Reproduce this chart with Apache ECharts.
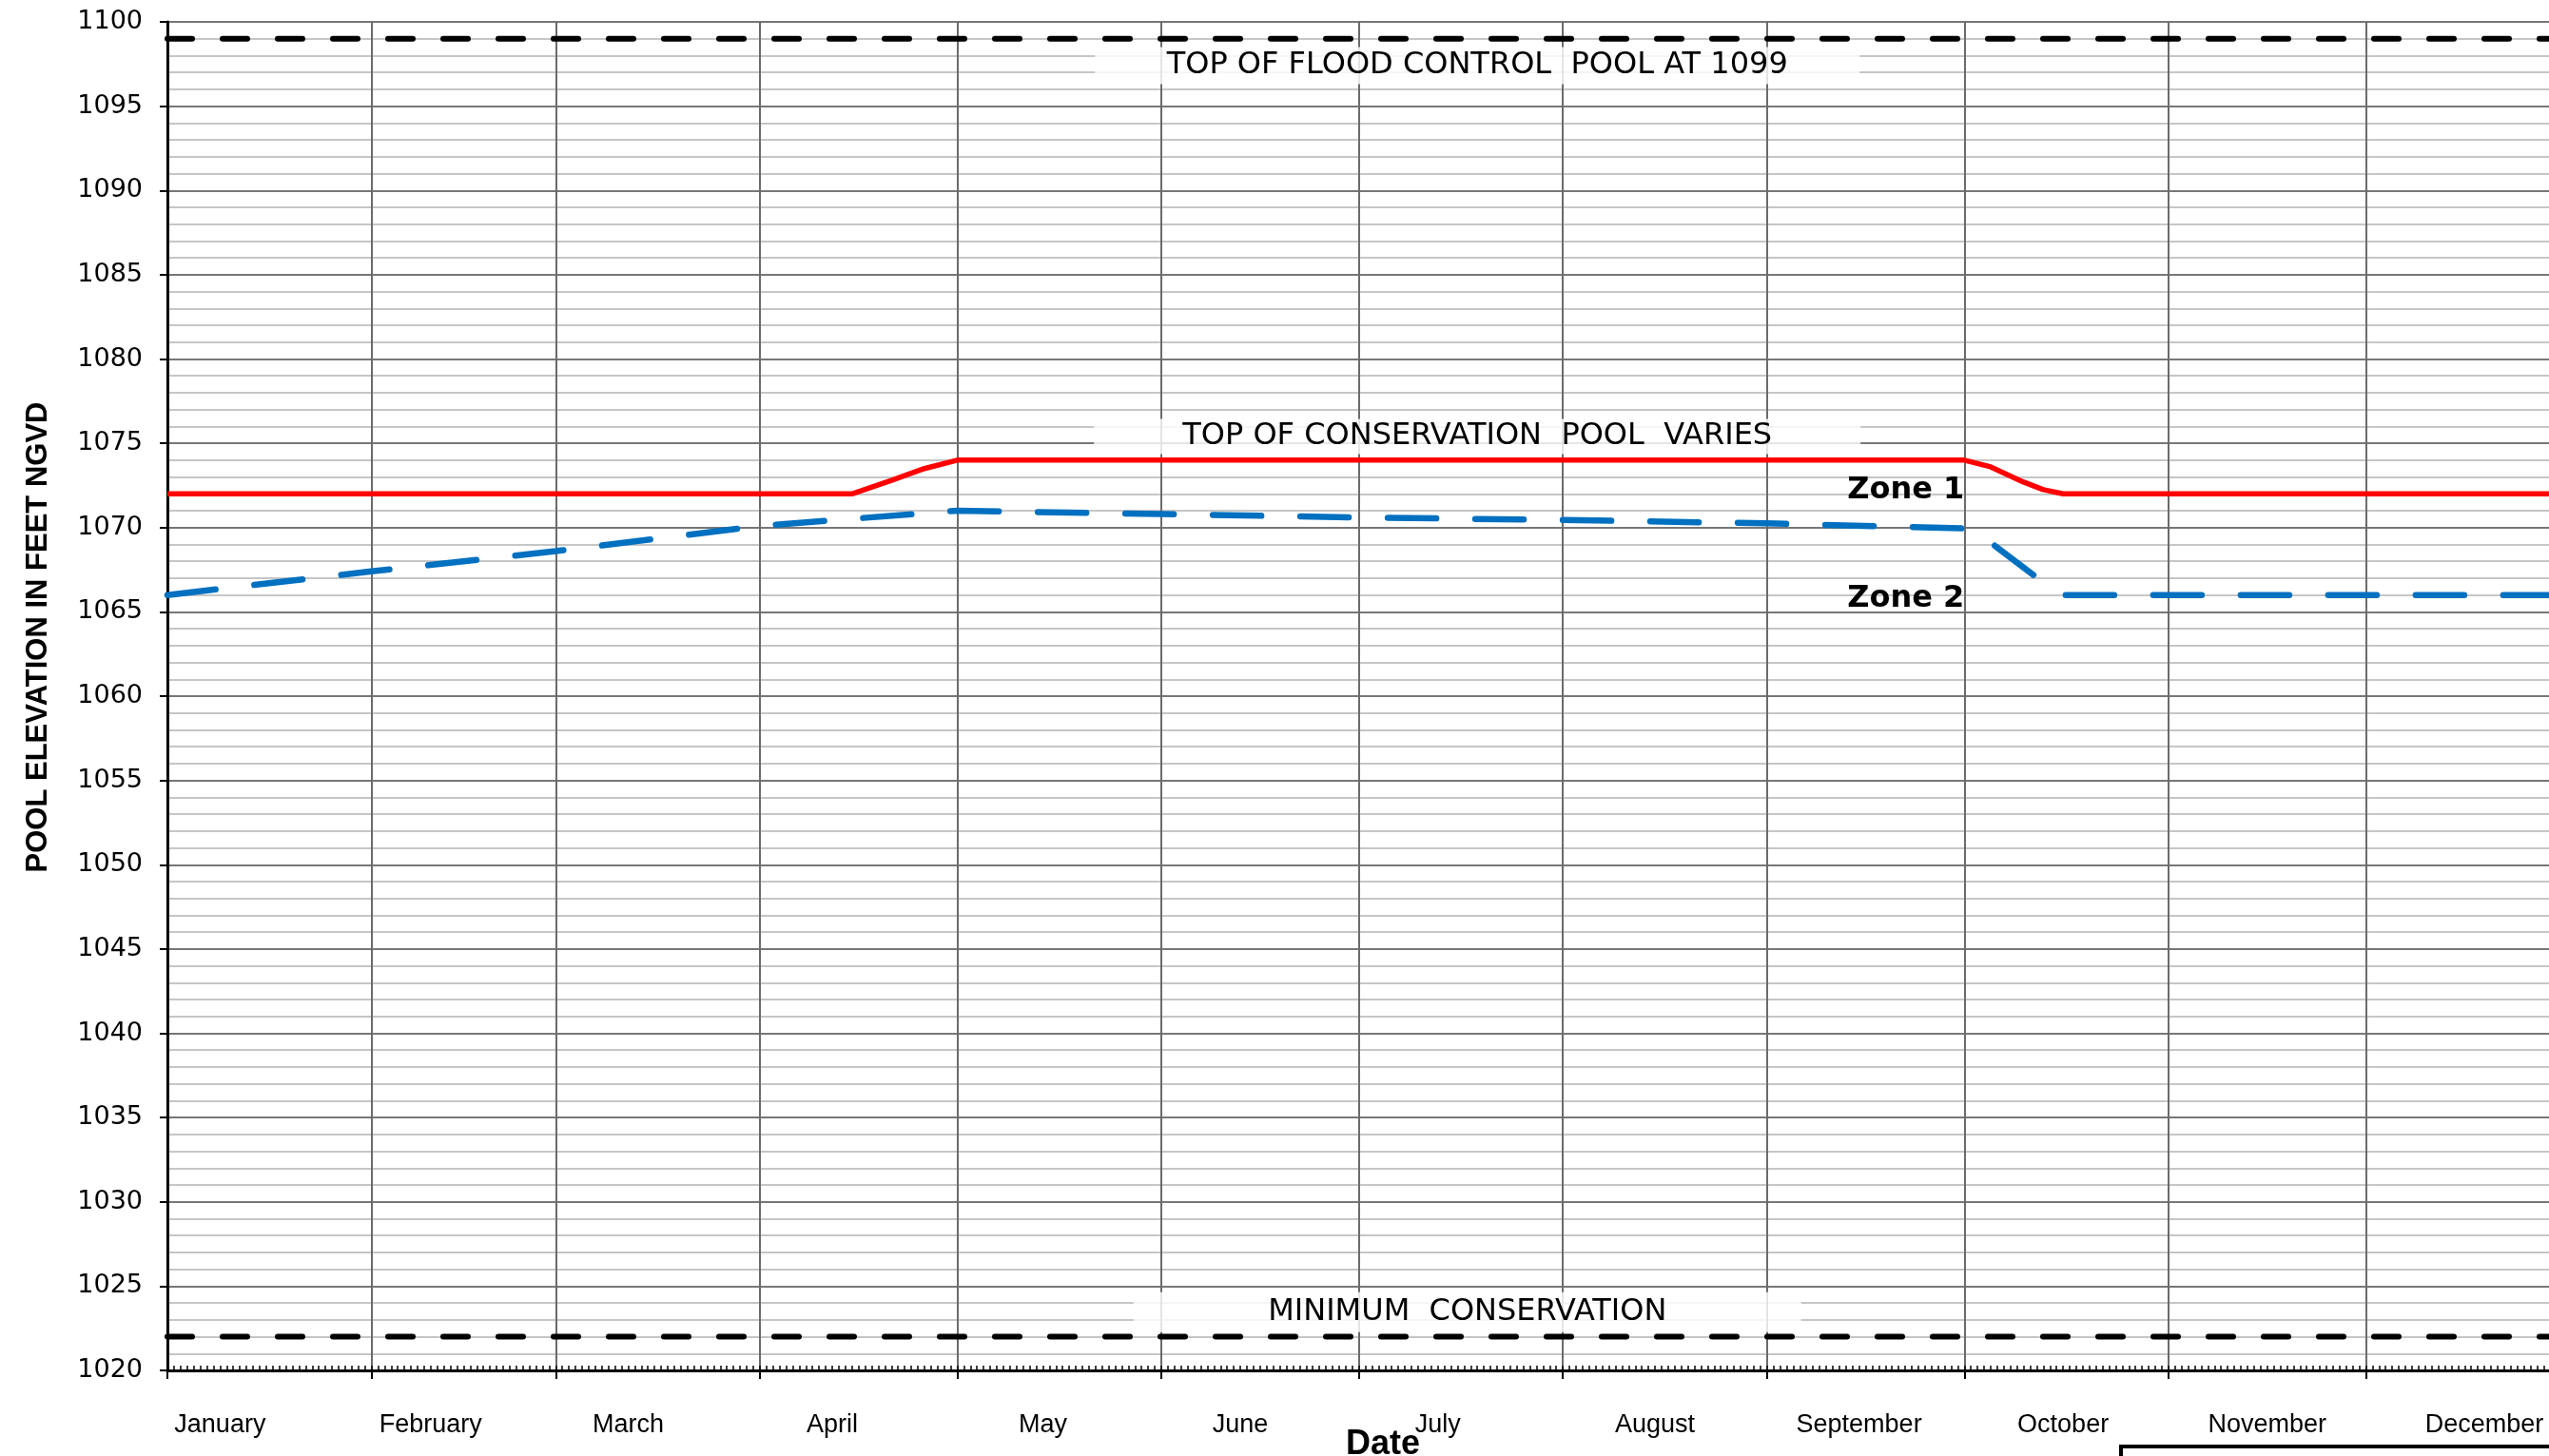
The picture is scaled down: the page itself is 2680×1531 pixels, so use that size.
<!DOCTYPE html>
<html>
<head>
<meta charset="utf-8">
<script src="https://cdn.jsdelivr.net/npm/echarts@6/dist/echarts.min.js"></script>
<style>
html,body{margin:0;padding:0;background:#fff;}
#chart{width:2680px;height:1531px;}
</style>
</head>
<body>
<div id="chart"></div>
<script>
// ---- data ----
const monthStarts = [0, 31, 59, 90, 120, 151, 181, 212, 243, 273, 304, 334, 365];
const monthNames = ['January','February','March','April','May','June','July','August','September','October','November','December'];
const monthLabelDays = [8, 40, 70, 101, 133, 163, 193, 226, 257, 288, 319, 352];

const floodDays = [0, 365];
const floodElev = [1099, 1099];

const minimumDays = [0, 365];
const minimumElev = [1022, 1022];

const zone1Days = [0, 104, 110, 115, 120, 273, 277, 282, 285, 288, 365];
const zone1Elev = [1072, 1072, 1072.8, 1073.5, 1074, 1074, 1073.6, 1072.7, 1072.25, 1072, 1072];

const zone2Days = [0, 31, 59, 90, 120, 151, 181, 212, 243, 273, 274.5, 287.5, 365];
const zone2Elev = [1066, 1067.4, 1068.6, 1070.1, 1071.0, 1070.8, 1070.6, 1070.45, 1070.25, 1069.95, 1069.85, 1066, 1066];

const yTicks = {min: 1020, max: 1100, step: 5};

const boxNotes = ['TOP OF FLOOD CONTROL  POOL AT 1099', 'TOP OF CONSERVATION  POOL  VARIES', 'MINIMUM  CONSERVATION'];
const boxNoteDays = [199, 199, 197.5];
const boxNoteElev = [1097.4, 1075.4, 1023.45];

const zoneNotes = ['Zone 1', 'Zone 2'];
const zoneNoteDays = [273, 273];
const zoneNoteElev = [1072.2, 1065.75];

// ---- helpers ----
const pairs = (xs, ys) => xs.map((x, i) => [x, ys[i]]);
const boxWidths = [804, 806, 702];
const boxHeights = [39, 37, 42];

const chart = echarts.init(document.getElementById('chart'), null, {renderer: 'canvas'});

const option = {
  animation: false,
  backgroundColor: '#ffffff',
  grid: {left: 176, top: 23, bottom: 90, right: -22, containLabel: false, outerBoundsMode: 'none'},
  legend: {
    data: ['Zone 1', 'Zone 2'],
    left: 2230, top: 1521, width: 700,
    orient: 'horizontal',
    padding: [22, 30],
    itemGap: 160, itemWidth: 80,
    borderColor: '#000', borderWidth: 4,
    backgroundColor: '#fff',
    textStyle: {fontSize: 24}
  },
  xAxis: [{
    type: 'value', min: 0, max: 365, position: 'bottom',
    axisLine: {show: true, onZero: false, lineStyle: {color: '#000', width: 3}},
    axisTick: {show: true, inside: false, length: 9, customValues: monthStarts, lineStyle: {color: '#000', width: 2}},
    splitLine: {show: true, lineStyle: {color: '#6b6b6b', width: 2}},
    axisLabel: {
      show: true, customValues: monthLabelDays, margin: 44,
      fontFamily: 'Liberation Sans, Arial, sans-serif', fontSize: 27, color: '#000',
      formatter: v => monthNames[monthLabelDays.indexOf(v)] || ''
    },
    name: 'Date', nameLocation: 'middle', nameGap: 60, nameMoveOverlap: false,
    nameTextStyle: {fontFamily: 'Liberation Sans, Arial, sans-serif', fontWeight: 'bold', fontSize: 36, color: '#000', padding: [0, 0, 0, 30]}
  }, {
    type: 'value', min: 0, max: 365, interval: 1, position: 'bottom',
    axisLine: {show: false},
    axisTick: {show: true, inside: true, length: 5, lineStyle: {color: '#000', width: 1.5}},
    splitLine: {show: false},
    axisLabel: {show: false}
  }],
  yAxis: {
    type: 'value', min: yTicks.min, max: yTicks.max, interval: yTicks.step,
    axisLine: {show: true, onZero: false, lineStyle: {color: '#000', width: 3}},
    axisTick: {show: true, inside: false, length: 8, lineStyle: {color: '#000', width: 2}},
    axisLabel: {margin: 26, fontFamily: 'DejaVu Sans, sans-serif', fontSize: 27, color: '#000', formatter: v => String(v)},
    splitLine: {show: true, lineStyle: {color: '#777', width: 2}},
    minorTick: {show: false, splitNumber: 5},
    minorSplitLine: {show: true, lineStyle: {color: '#c6c6c6', width: 2}},
    name: 'POOL ELEVATION IN FEET NGVD', nameLocation: 'middle', nameGap: 120, nameRotate: 90, nameMoveOverlap: false,
    nameTextStyle: {fontFamily: 'Liberation Sans, Arial, sans-serif', fontWeight: 'bold', fontSize: 31, color: '#000', padding: [0, 0, 0, 124]}
  },
  series: [
    {
      name: 'Top of Flood Control Pool', type: 'line', symbol: 'none', silent: true,
      data: pairs(floodDays, floodElev),
      lineStyle: {color: '#000', width: 6, type: [26, 32], cap: 'round'},
      z: 5
    },
    {
      name: 'Minimum Conservation', type: 'line', symbol: 'none', silent: true,
      data: pairs(minimumDays, minimumElev),
      lineStyle: {color: '#000', width: 6, type: [26, 32], cap: 'round'},
      z: 5
    },
    {
      name: 'Zone 1', type: 'line', symbol: 'none', silent: true,
      data: pairs(zone1Days, zone1Elev),
      color: '#ff0000',
      lineStyle: {color: '#ff0000', width: 5.5},
      z: 6
    },
    {
      name: 'Zone 2', type: 'line', symbol: 'none', silent: true,
      data: pairs(zone2Days, zone2Elev),
      color: '#0070c0',
      lineStyle: {color: '#0070c0', width: 6.5, type: [51, 41], cap: 'round'},
      z: 6
    },
    {
      name: 'notes', type: 'line', data: [], silent: true, z: 4,
      markPoint: {
        symbol: 'circle', symbolSize: 1, silent: true,
        itemStyle: {color: 'rgba(0,0,0,0)'},
        data: boxNotes.map((t, i) => ({
          coord: [boxNoteDays[i], boxNoteElev[i]],
          label: {
            show: true, position: 'inside', formatter: t,
            width: boxWidths[i], height: boxHeights[i], lineHeight: boxHeights[i],
            align: 'center', verticalAlign: 'middle',
            backgroundColor: 'rgba(255,255,255,0.82)',
            fontFamily: 'DejaVu Sans, sans-serif', fontSize: 32, color: '#000'
          }
        })).concat(zoneNotes.map((t, i) => ({
          coord: [zoneNoteDays[i], zoneNoteElev[i]],
          label: {
            show: true, position: 'inside', formatter: t,
            align: 'right', verticalAlign: 'middle',
            fontFamily: 'DejaVu Sans, sans-serif', fontWeight: 'bold', fontSize: 32, color: '#000'
          }
        })))
      }
    }
  ]
};
chart.setOption(option);
</script>
</body>
</html>
